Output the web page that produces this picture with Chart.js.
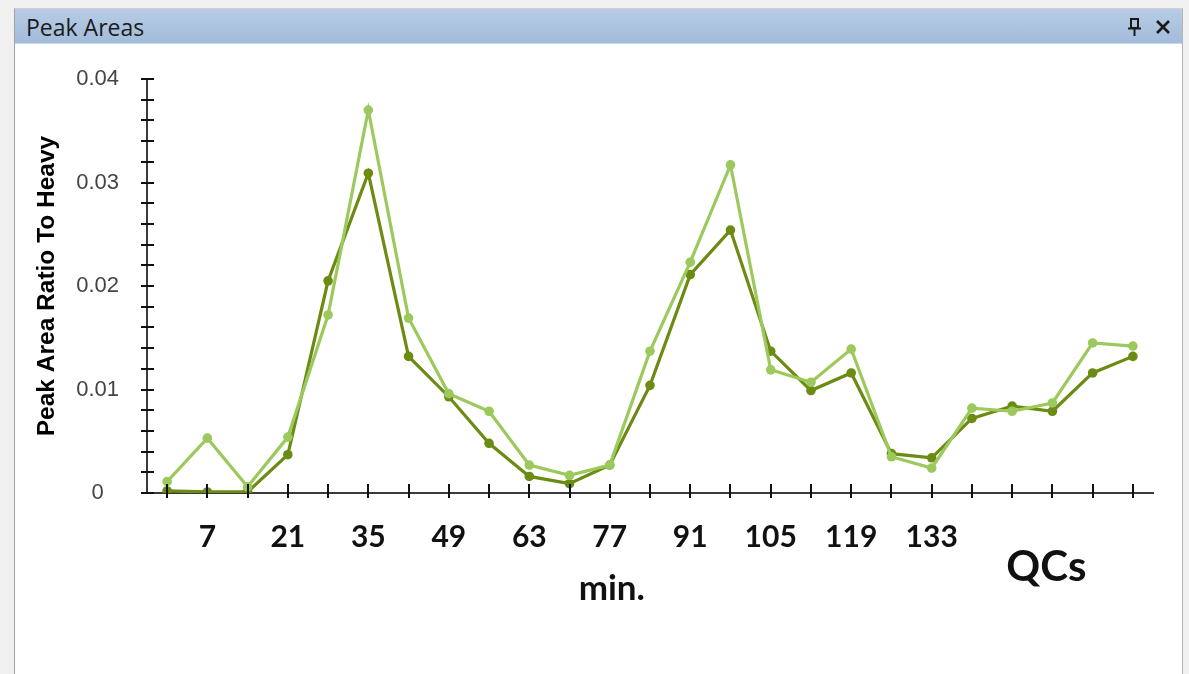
<!DOCTYPE html>
<html>
<head>
<meta charset="utf-8">
<title>Peak Areas</title>
<script src="https://cdn.jsdelivr.net/npm/chart.js@4.4.1/dist/chart.umd.min.js"></script>
<style>
  html, body { margin: 0; padding: 0; width: 1189px; height: 674px; overflow: hidden; background: #f0f0f0; }
  #panel {
    position: absolute; left: 14px; top: 8px; width: 1167px; height: 680px;
    background: #ffffff; border-left: 1px solid #a3a3a3; border-right: 1px solid #b8b8b8; border-top: 1px solid #cfcfcf;
  }
  #bar {
    position: absolute; left: 0; top: 0; width: 1167px; height: 34px;
    background: linear-gradient(#b7cce5, #a3bcda);
    border-bottom: 1px solid #c6d5e8;
  }
  #bar .name {
    position: absolute; left: 11px; top: 2px;
    font-family: "Open Sans", sans-serif; font-size: 23px; letter-spacing: 0px; color: #1b1b1b;
  }
  #bar svg { position: absolute; top: 8px; }
  #wrap { position: absolute; left: 15px; top: 44px; width: 1167px; height: 630px; }
</style>
</head>
<body>
<div id="panel">
  <div id="bar">
    <span class="name">Peak Areas</span>
    <svg style="left:1112px" width="16" height="20" viewBox="0 0 16 20">
      <rect x="4" y="2" width="7" height="9" fill="none" stroke="#1a1a1a" stroke-width="2"/>
      <line x1="1" y1="11.5" x2="14" y2="11.5" stroke="#1a1a1a" stroke-width="2"/>
      <line x1="7.5" y1="12" x2="7.5" y2="19" stroke="#1a1a1a" stroke-width="2"/>
    </svg>
    <svg style="left:1139px" width="18" height="20" viewBox="0 0 18 20">
      <line x1="3" y1="4" x2="15" y2="16" stroke="#1a1a1a" stroke-width="2.6"/>
      <line x1="15" y1="4" x2="3" y2="16" stroke="#1a1a1a" stroke-width="2.6"/>
    </svg>
  </div>
</div>
<div id="wrap"><canvas id="chart" width="1167" height="630"></canvas></div>

<script>
// Sample times (minutes), one per acquisition
const minutes = ['0', '7', '14', '21', '28', '35', '42', '49', '56', '63', '70', '77', '84',
                 '91', '98', '105', '112', '119', '126', '133', '140', '147', '154', '161', '168'];
// Times that carry a printed label on the x axis
const labeledMinutes = ['7', '21', '35', '49', '63', '77', '91', '105', '119', '133'];
// Labels of the major y ticks (every 0.01)
const yTickLabels = ['0', '0.01', '0.02', '0.03', '0.04'];

// Peak area ratio to heavy, two replicate traces
const ratioLight = [0.0011, 0.0053, 0.0006, 0.0054, 0.0172, 0.0370, 0.0169, 0.0096, 0.0079,
                    0.0027, 0.0017, 0.0027, 0.0137, 0.0223, 0.0317, 0.0119, 0.0107, 0.0139,
                    0.0035, 0.0024, 0.0082, 0.0079, 0.0087, 0.0145, 0.0142];
const ratioDark  = [0.0002, 0.0001, 0.0001, 0.0037, 0.0205, 0.0309, 0.0132, 0.0093, 0.0048,
                    0.0016, 0.0009, 0.0027, 0.0104, 0.0211, 0.0254, 0.0137, 0.0099, 0.0116,
                    0.0038, 0.0034, 0.0072, 0.0084, 0.0079, 0.0116, 0.0132];

const LIGHT = '#9cc95b';
const DARK = '#6b8b12';

// Tick marks that cross the axis lines, drawn above the series
const crossTicks = {
  id: 'crossTicks',
  afterDatasetsDraw(chart) {
    const { ctx, scales: { x, y } } = chart;
    ctx.save();
    ctx.strokeStyle = '#111';
    ctx.lineWidth = 2;
    ctx.beginPath();
    x.ticks.forEach((t, i) => {
      const px = Math.round(x.getPixelForTick(i));
      ctx.moveTo(px, x.top - 9);
      ctx.lineTo(px, x.top + 5);
    });
    y.ticks.forEach((t, i) => {
      const py = Math.round(y.getPixelForTick(i));
      ctx.moveTo(y.right - 6, py);
      ctx.lineTo(y.right + 7, py);
    });
    ctx.stroke();
    ctx.restore();
  }
};

// Axis notes under the x axis
const axisNotes = [
  { text: 'min.', at: 11.05, font: '700 35px Lato', baseline: 556 },
  { text: 'QCs', at: 21.85, font: '700 42px Lato', baseline: 537 }
];
const notesPlugin = {
  id: 'axisNotes',
  afterDraw(chart) {
    const { ctx, scales: { x } } = chart;
    ctx.save();
    ctx.fillStyle = '#111';
    ctx.textAlign = 'center';
    ctx.textBaseline = 'alphabetic';
    axisNotes.forEach(n => {
      ctx.font = n.font;
      ctx.fillText(n.text, x.getPixelForValue(n.at), n.baseline);
    });
    ctx.restore();
  }
};

new Chart(document.getElementById('chart'), {
  type: 'line',
  data: {
    labels: minutes,
    datasets: [
      {
        label: 'Replicate B',
        data: ratioLight,
        borderColor: LIGHT,
        backgroundColor: LIGHT,
        borderWidth: 3.2,
        pointRadius: 4.8,
        pointBorderWidth: 0,
        pointBackgroundColor: LIGHT,
        tension: 0
      },
      {
        label: 'Replicate A',
        data: ratioDark,
        borderColor: DARK,
        backgroundColor: DARK,
        borderWidth: 3.2,
        pointRadius: 4.8,
        pointBorderWidth: 0,
        pointBackgroundColor: DARK,
        tension: 0
      }
    ]
  },
  options: {
    responsive: false,
    animation: false,
    events: [],
    layout: { padding: { left: 0, top: 35, right: 29, bottom: 0 } },
    plugins: {
      legend: { display: false },
      tooltip: { enabled: false }
    },
    scales: {
      x: {
        type: 'category',
        offset: true,
        grid: { display: false },
        border: { display: true, color: '#3a3a3a', width: 2 },
        ticks: {
          autoSkip: false,
          maxRotation: 0,
          padding: 18,
          color: '#111',
          font: { family: 'Lato', weight: '700', size: 30 },
          callback: (v, i) => labeledMinutes.includes(minutes[i]) ? minutes[i] : ''
        },
        afterFit: s => { s.height = 181; }
      },
      y: {
        min: 0,
        max: 0.04,
        grid: { display: false },
        border: { display: true, color: '#3a3a3a', width: 2 },
        ticks: {
          stepSize: 0.002,
          autoSkip: false,
          padding: 20,
          crossAlign: 'center',
          color: '#444',
          font: { family: 'Liberation Sans', size: 22 },
          callback: (v, i) => (i % 5 === 0 ? yTickLabels[i / 5] : '')
        },
        title: {
          display: true,
          text: 'Peak Area Ratio To Heavy',
          color: '#000',
          font: { family: 'Liberation Sans', weight: 'bold', size: 24.5 },
          padding: { top: 18, bottom: 0 }
        },
        afterFit: s => { s.width = 132; }
      }
    }
  },
  plugins: [crossTicks, notesPlugin]
});
</script>
</body>
</html>
